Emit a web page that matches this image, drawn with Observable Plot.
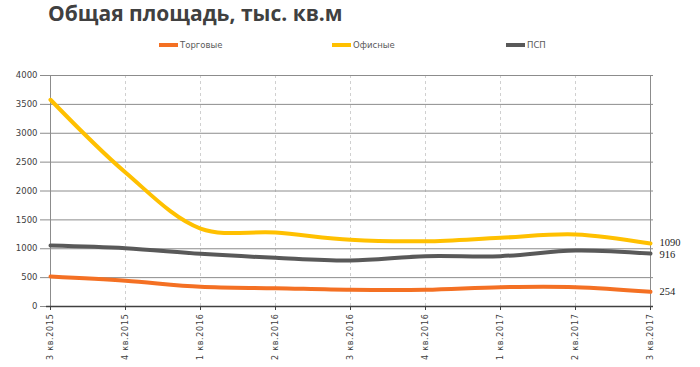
<!DOCTYPE html>
<html><head><meta charset="utf-8">
<script src="https://cdn.jsdelivr.net/npm/d3@7"></script>
<script src="https://cdn.jsdelivr.net/npm/@observablehq/plot@0.6"></script>
<style>
body{margin:0;background:#fff;width:700px;height:367px;overflow:hidden;position:relative;font-family:"Open Sans",sans-serif;}
#title{position:absolute;left:48px;top:3px;line-height:21px;font-size:21px;font-weight:bold;color:#404040;font-family:"Open Sans",sans-serif;white-space:nowrap;}
#legend{position:absolute;top:40px;left:0;width:700px;height:14px;font-size:8.5px;color:#595959;font-family:"DejaVu Sans",sans-serif;}
.li{position:absolute;display:flex;align-items:center;}
.sw{width:19px;height:4px;margin-right:2px;}
#chart{position:absolute;left:0;top:0;}
#chart g[aria-label="x-axis tick label"] text{letter-spacing:0.7px;}
</style></head>
<body>
<div id="chart"></div>
<div id="title">Общая площадь, тыс. кв.м</div>
<div id="legend"></div>
<script>
const quarters = ["3 кв.2015","4 кв.2015","1 кв.2016","2 кв.2016","3 кв.2016","4 кв.2016","1 кв.2017","2 кв.2017","3 кв.2017"];
const seriesNames = ["Торговые","Офисные","ПСП"];
const trade = [519, 445, 341, 317, 289, 289, 334, 334, 254];
const office = [3580, 2320, 1350, 1280, 1155, 1130, 1190, 1247, 1090];
const psp = [1056, 1010, 912, 843, 797, 872, 872, 970, 916];
const colors = ["#F47023", "#FFC000", "#595959"];
const yTicks = [0,500,1000,1500,2000,2500,3000,3500,4000];

const data = [];
[trade, office, psp].forEach((arr, si) => arr.forEach((v, i) => data.push({series: seriesNames[si], q: quarters[i], v})));
const lastQ = quarters[quarters.length-1];
const endLabel = (arr, dy) => Plot.text([{q: lastQ, v: arr[arr.length-1]}], {x: "q", y: "v", text: d => String(d.v), dx: 9, dy, textAnchor: "start", fontFamily: "Liberation Serif, serif", fontSize: 10.5, fill: "#222"});

const chart = Plot.plot({
  width: 700, height: 367,
  marginTop: 75, marginLeft: 46, marginRight: 47, marginBottom: 61,
  x: {type: "point", domain: quarters, padding: 0},
  y: {domain: [0, 4000]},
  color: {domain: seriesNames, range: colors},
  style: {fontFamily: "DejaVu Sans, sans-serif", fontSize: "8px", color: "#404040"},
  marks: [
    Plot.ruleX(quarters.slice(1, -1), {stroke: "#d0d0d0", strokeDasharray: "3,3"}),
    Plot.ruleY(yTicks.slice(1), {stroke: "#8c8c8c", strokeWidth: 1}),
    Plot.ruleX([lastQ], {stroke: "#8c8c8c"}),
    Plot.ruleX([quarters[0]], {stroke: "#8c8c8c"}),
    Plot.axisY({ticks: yTicks, tickFormat: d => String(d), tickSize: 6, tickPadding: 3, label: null, fontSize: 8.5, stroke: "#8c8c8c"}),
    Plot.axisX({tickRotate: -90, tickSize: 4, tickPadding: 3, label: null, stroke: "#404040"}),
    Plot.ruleY([0], {stroke: "#404040", strokeWidth: 1.5}),
    Plot.line(data, {x: "q", y: "v", stroke: "series", strokeWidth: 4, curve: "catmull-rom"}),
    endLabel(office, -1),
    endLabel(psp, 1),
    endLabel(trade, 0)
  ]
});
document.getElementById("chart").appendChild(chart);

const lg = document.getElementById("legend");
const pos = [159, 332, 506];
seriesNames.forEach((n, i) => {
  const el = document.createElement("div");
  el.className = "li";
  el.style.left = pos[i] + "px";
  el.innerHTML = `<span class="sw" style="background:${colors[i]}"></span><span>${n}</span>`;
  lg.appendChild(el);
});
</script>
</body></html>
